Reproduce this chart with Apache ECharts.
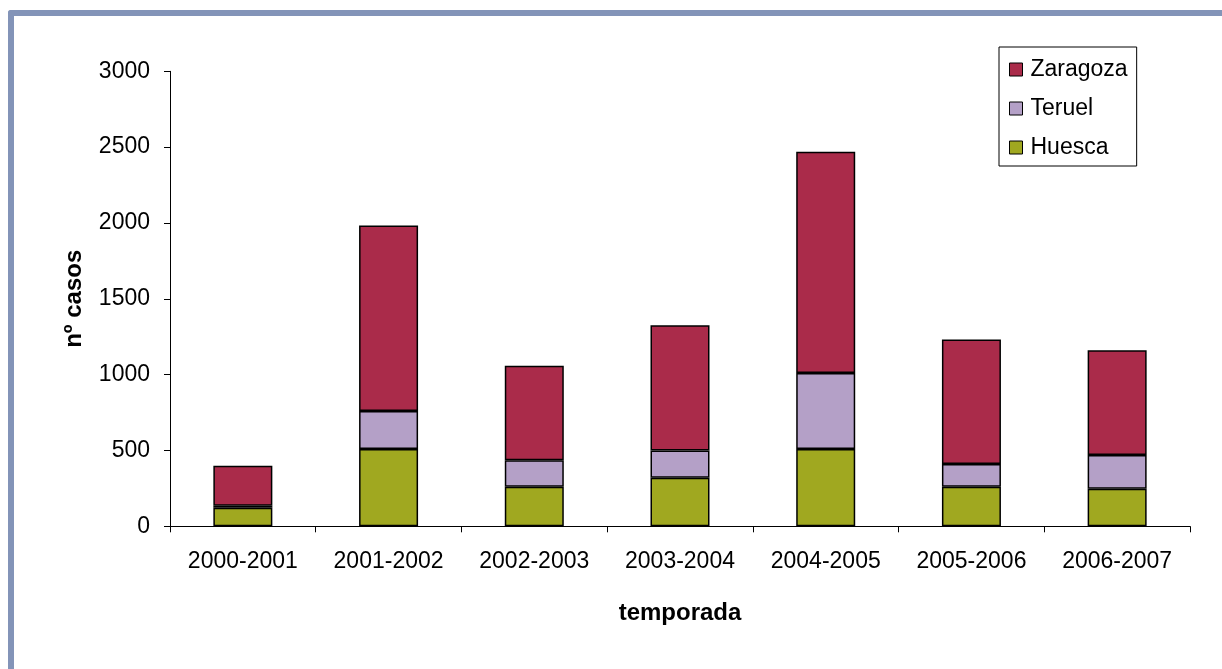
<!DOCTYPE html>
<html>
<head>
<meta charset="utf-8">
<script src="https://cdn.jsdelivr.net/npm/echarts@6/dist/echarts.min.js"></script>
<style>
html,body{margin:0;padding:0;background:#fff;}
#chart{width:1222px;height:669px;}
</style>
</head>
<body>
<div id="chart"></div>
<script>
const categories = ['2000-2001','2001-2002','2002-2003','2003-2004','2004-2005','2005-2006','2006-2007'];
const huesca = [122, 510, 260, 320, 510, 260, 248];
const teruel = [13, 250, 175, 180, 500, 150, 222];
const zaragoza = [265, 1223, 624, 825, 1459, 822, 690];
const yTicks = [0, 500, 1000, 1500, 2000, 2500, 3000];

const chart = echarts.init(document.getElementById('chart'), null, {renderer:'canvas'});
const font = 'Liberation Sans, Arial, sans-serif';
const barStyle = (c) => ({color:c, borderColor:'#000', borderWidth:1.5});
chart.setOption({
  backgroundColor:'#fff',
  animation:false,
  graphic:[
    {type:'rect', shape:{x:8, y:10, width:1230, height:6, r:[3,0,0,0]}, style:{fill:'#8394B8'}, z:10},
    {type:'rect', shape:{x:8, y:10, width:6, height:680, r:[3,0,0,0]}, style:{fill:'#8394B8'}, z:10}
  ],
  grid:{left:170, right:32, top:71.3, bottom:142.7, containLabel:false},
  legend:{
    orient:'vertical', left:999, top:47,
    data:['Zaragoza','Teruel','Huesca'],
    icon:'rect', itemWidth:13, itemHeight:13, itemGap:16,
    padding:[11, 9, 7, 10],
    borderColor:'#000', borderWidth:1, backgroundColor:'#fff',
    textStyle:{fontFamily:font, fontSize:23, color:'#000', padding:[0,0,0,3]},
    itemStyle:{borderColor:'#000', borderWidth:1}
  },
  xAxis:{
    type:'category', data:categories,
    name:'temporada', nameLocation:'middle', nameGap:75,
    nameTextStyle:{fontFamily:font, fontSize:24, fontWeight:'bold', color:'#000'},
    axisLine:{lineStyle:{color:'#000', width:1}},
    axisTick:{show:true, length:6, lineStyle:{color:'#000'}},
    axisLabel:{fontFamily:font, fontSize:23, color:'#000', margin:24}
  },
  yAxis:{
    type:'value', min:0, max:3000, interval:500,
    name:'nº casos', nameLocation:'middle', nameGap:84, nameRotate:90,
    nameTextStyle:{fontFamily:font, fontSize:24, fontWeight:'bold', color:'#000'},
    axisLine:{show:true, lineStyle:{color:'#000', width:1}},
    axisTick:{show:true, length:6, lineStyle:{color:'#000'}},
    axisLabel:{fontFamily:font, fontSize:23, color:'#000', margin:20,
      formatter:(v)=> yTicks.includes(v) ? String(v) : ''},
    splitLine:{show:false}
  },
  series:[
    {name:'Huesca', type:'bar', stack:'t', data:huesca, barWidth:59, itemStyle:barStyle('#A0A820')},
    {name:'Teruel', type:'bar', stack:'t', data:teruel, barWidth:59, itemStyle:barStyle('#B4A0C7')},
    {name:'Zaragoza', type:'bar', stack:'t', data:zaragoza, barWidth:59, itemStyle:barStyle('#AA2B4A')}
  ]
});
</script>
</body>
</html>
